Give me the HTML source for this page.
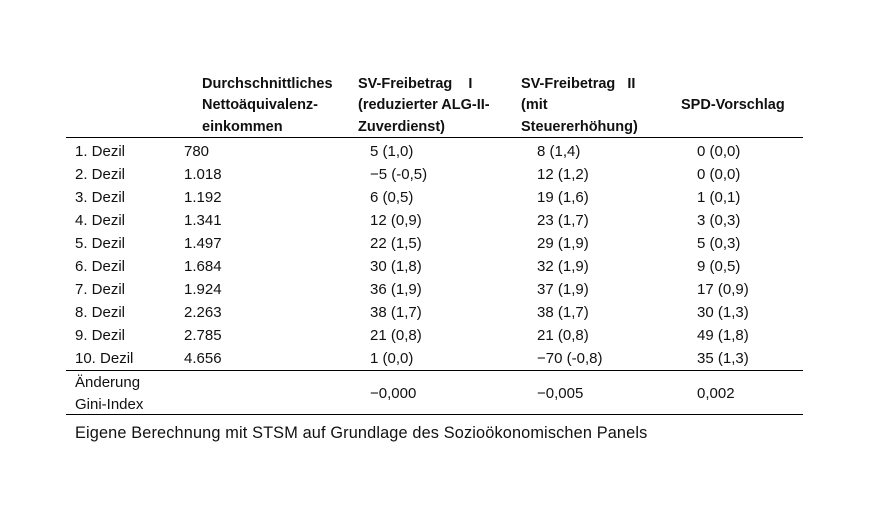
<!DOCTYPE html>
<html><head><meta charset="utf-8"><style>
body{margin:0;width:879px;height:510px;background:#fff;font-family:"Liberation Sans",sans-serif;color:#111;position:relative;overflow:hidden}
.t{position:absolute;font-size:15px;line-height:22px;white-space:nowrap;transform:translateY(-11px)}
.h{font-weight:bold;font-size:14.5px}
.rule{position:absolute;left:66px;width:737px;height:1px;background:#000}
</style></head><body>
<div>
<div class="t h" style="left:202px;top:84px">Durchschnittliches</div>
<div class="t h" style="left:202px;top:105px">Nettoäquivalenz-</div>
<div class="t h" style="left:202px;top:127px">einkommen</div>
<div class="t h" style="left:358px;top:84px">SV-Freibetrag&nbsp;&nbsp;&nbsp;&nbsp;I</div>
<div class="t h" style="left:358px;top:105px">(reduzierter ALG-II-</div>
<div class="t h" style="left:358px;top:127px">Zuverdienst)</div>
<div class="t h" style="left:521px;top:84px">SV-Freibetrag&nbsp;&nbsp;&nbsp;II</div>
<div class="t h" style="left:521px;top:105px">(mit</div>
<div class="t h" style="left:521px;top:127px">Steuererhöhung)</div>
<div class="t h" style="left:681px;top:105px">SPD-Vorschlag</div>
<div class="rule" style="top:137px"></div>
<div id="rows"></div>
<div class="rule" style="top:370px"></div>
<div class="t" style="left:75px;top:383px">Änderung</div>
<div class="t" style="left:75px;top:405px">Gini-Index</div>
<div class="t" style="left:370px;top:394px">−0,000</div>
<div class="t" style="left:537px;top:394px">−0,005</div>
<div class="t" style="left:697px;top:394px">0,002</div>
<div class="rule" style="top:414px"></div>
<div class="t" style="left:75px;top:433px;font-size:16.3px;letter-spacing:0.15px">Eigene Berechnung mit STSM auf Grundlage des Sozioökonomischen Panels</div>
</div>
<script>
const labels=["1. Dezil","2. Dezil","3. Dezil","4. Dezil","5. Dezil","6. Dezil","7. Dezil","8. Dezil","9. Dezil","10. Dezil"];
const income=["780","1.018","1.192","1.341","1.497","1.684","1.924","2.263","2.785","4.656"];
const sv1=["5 (1,0)","−5 (-0,5)","6 (0,5)","12 (0,9)","22 (1,5)","30 (1,8)","36 (1,9)","38 (1,7)","21 (0,8)","1 (0,0)"];
const sv2=["8 (1,4)","12 (1,2)","19 (1,6)","23 (1,7)","29 (1,9)","32 (1,9)","37 (1,9)","38 (1,7)","21 (0,8)","−70 (-0,8)"];
const spd=["0 (0,0)","0 (0,0)","1 (0,1)","3 (0,3)","5 (0,3)","9 (0,5)","17 (0,9)","30 (1,3)","49 (1,8)","35 (1,3)"];
const root=document.getElementById('rows');
const cols=[[labels,75,'label'],[income,184,'income'],[sv1,370,'sv1'],[sv2,537,'sv2'],[spd,697,'spd']];
labels.forEach((l,i)=>{
  cols.forEach(([arr,x,n])=>{
    const d=document.createElement('div');
    d.className='t';
    d.style.left=x+'px';
    d.style.top=(152+23*i)+'px';
    d.textContent=arr[i];
    
    
    root.appendChild(d);
  });
});
</script>
</body></html>
